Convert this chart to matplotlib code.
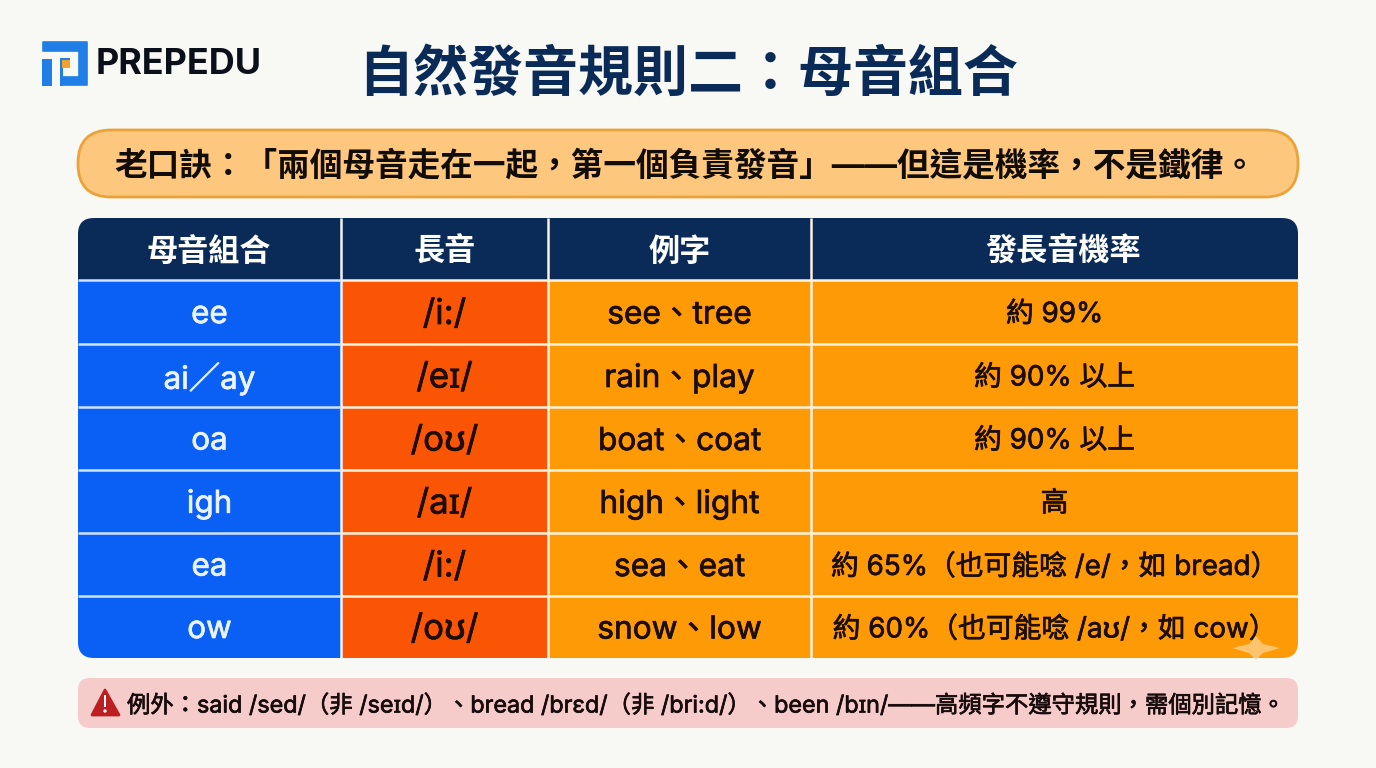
"""Vowel-team phonics table slide, drawn in pixel coordinates."""
import matplotlib
matplotlib.use("Agg")  # no display
import matplotlib.pyplot as plt
import matplotlib.patheffects as pe
from matplotlib.patches import FancyBboxPatch, Rectangle, Polygon, Circle
from matplotlib.path import Path
from matplotlib.patches import PathPatch

TITLE = "自然發音規則二：母音組合"
SLOGAN = "老口訣：「兩個母音走在一起，第一個負責發音」——但這是機率，不是鐵律。"
NOTE = "例外：said /sed/（非 /seɪd/）、bread /brɛd/（非 /bri:d/）、been /bɪn/——高頻字不遵守規則，需個別記憶。"

headers = ["母音組合", "長音", "例字", "發長音機率"]
vowels = ["ee", "ai／ay", "oa", "igh", "ea", "ow"]
sounds = ["/i:/", "/eɪ/", "/oʊ/", "/aɪ/", "/i:/", "/oʊ/"]
examples = ["see、tree", "rain、play", "boat、coat", "high、light", "sea、eat", "snow、low"]
odds = ["約 99%", "約 90% 以上", "約 90% 以上", "高",
        "約 65%（也可能唸 /e/，如 bread）", "約 60%（也可能唸 /aʊ/，如 cow）"]

col_edges = [78, 341, 548, 811, 1298]
row_edges = [218, 280, 344, 407, 470, 533, 596, 658]
header_shift = [-1, 0, 0, 9]  # last header sits right of its column centre in the original
col_colors = ["#0a5ff5", "#fa5505", "#fd9a05", "#fd9a05"]
text_colors = ["#eaf3ff", "#1c0d05", "#1c0d05", "#1c0d05"]
NAVY = "#0a2b58"
LINE = "#fdf3dc"
FONT = ["Inter", "Noto Sans", "Noto Sans CJK TC", "DejaVu Sans"]

plt.rcParams["font.family"] = FONT

fig = plt.figure(figsize=(13.76, 7.68), dpi=100, facecolor="#f8f8f4")
ax = fig.add_axes([0, 0, 1, 1])
ax.set_xlim(0, 1376)
ax.set_ylim(768, 0)
ax.axis("off")


def rounded(x0, y0, x1, y1, r, **kw):
    patch = FancyBboxPatch((x0 + r, y0 + r), x1 - x0 - 2 * r, y1 - y0 - 2 * r,
                           boxstyle=f"round,pad={r},rounding_size={r}", **kw)
    ax.add_patch(patch)
    return patch


def fat_text(x, y, s, size, color, stroke=0.5, ha="center"):
    # medium weight look: regular glyphs with a thin outline of the same colour
    ax.text(x, y, s, fontsize=size, color=color, ha=ha, va="center",
            path_effects=[pe.withStroke(linewidth=stroke, foreground=color)])


# logo
BLUE = "#1f7fe6"
ax.add_patch(Polygon([(43, 42), (87, 42), (87, 85), (62, 85), (62, 77), (79, 77), (79, 51),
                      (43, 51)], closed=True, fc=BLUE, ec=BLUE, lw=1.2, joinstyle="round"))
ax.add_patch(Rectangle((42, 59), 10, 27, fc=BLUE, ec="none"))
ax.add_patch(Rectangle((60, 58), 10, 3, fc=BLUE, ec="none"))
ax.add_patch(Rectangle((60, 58), 3, 28, fc=BLUE, ec="none"))
ax.add_patch(Rectangle((62, 60), 8, 8, fc="#f2a22c", ec="none"))
ax.text(96, 64, "PREPEDU", fontsize=25.9, fontweight="bold", color="#0b0f1a",
        ha="left", va="center", family=["Inter", "DejaVu Sans"])

# title
ax.text(688, 75, TITLE, fontsize=39.6, fontweight="bold", color=NAVY, ha="center", va="center")

# slogan pill
rounded(78, 130, 1298, 197, 33, fc="#fdc77e", ec="#eba338", lw=2)
ax.text(685, 167, SLOGAN, fontsize=23.5, fontweight="bold", color="#120c06", ha="center", va="center")

# table, clipped to one rounded outline
clip = FancyBboxPatch((78 + 16, 218 + 16), 1220 - 32, 440 - 32,
                      boxstyle="round,pad=16,rounding_size=16", fc="none", ec="none")
ax.add_patch(clip)

for c in range(4):
    x0, x1 = col_edges[c], col_edges[c + 1]
    head = Rectangle((x0, row_edges[0]), x1 - x0, row_edges[1] - row_edges[0], fc=NAVY, ec="none")
    ax.add_patch(head)
    head.set_clip_path(clip)
    ax.text((x0 + x1) / 2 + header_shift[c], 252, headers[c], fontsize=22.4, fontweight="bold",
            color="white", ha="center", va="center")

columns = [vowels, sounds, examples, odds]
sizes = [22.6, 25, 22.8, 20]
for c, values in enumerate(columns):
    x0, x1 = col_edges[c], col_edges[c + 1]
    for r, label in enumerate(values):
        y0, y1 = row_edges[r + 1], row_edges[r + 2]
        cell = Rectangle((x0, y0), x1 - x0, y1 - y0, fc=col_colors[c], ec="none")
        ax.add_patch(cell)
        cell.set_clip_path(clip)
        fat_text((x0 + x1) / 2, (y0 + y1) / 2 + 3, label, sizes[c], text_colors[c])

# grid lines between cells
for x, color in zip(col_edges[1:-1], ["#eef4fa", "#fdf0dc", "#fdf0dc"]):
    ax.plot([x, x], [218, 658], color=color, lw=1.8, solid_capstyle="butt")
for y in row_edges[1:-1]:
    ax.plot([78, 341], [y, y], color="#cfe4ff", lw=1.8, solid_capstyle="butt")
    ax.plot([341, 1298], [y, y], color=LINE, lw=1.8, solid_capstyle="butt")

# faint sparkle, bottom right of the table
star = Path([(1232, 648), (1249, 644), (1256, 636), (1263, 644), (1280, 648),
             (1263, 653), (1256, 660), (1249, 653), (1232, 648)])
ax.add_patch(PathPatch(star, fc="#fdd79a", ec="none", alpha=0.7))

# exception note
rounded(78, 678, 1298, 728, 12, fc="#f6cccb", ec="none")
ax.add_patch(Polygon([(105, 690), (119, 715), (92, 715)], closed=True, fc="#bd1e22",
                     ec="#bd1e22", lw=2, joinstyle="round"))
ax.add_patch(Rectangle((103.8, 695), 2.6, 12, fc="white", ec="none"))
ax.add_patch(Circle((105, 711), 1.7, fc="white", ec="none"))
fat_text(127, 706, NOTE, 16.8, "#170b0b", ha="left")

fig.savefig("out.png", dpi=100, facecolor=fig.get_facecolor())
plt.close(fig)
